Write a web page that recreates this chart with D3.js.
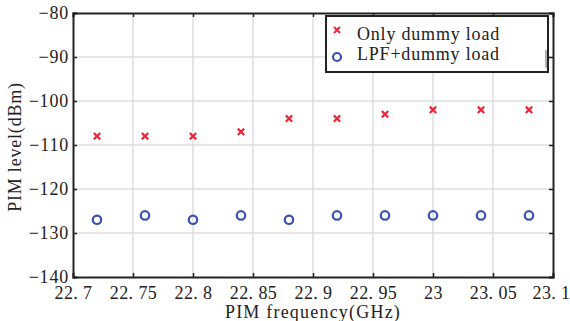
<!DOCTYPE html>
<html>
<head>
<meta charset="utf-8">
<script src="https://cdn.jsdelivr.net/npm/d3@7"></script>
<style>
  body { margin: 0; background: #fff; }
  text { font-family: "Liberation Serif", "DejaVu Serif", serif; fill: #222; }
</style>
</head>
<body>
<div id="chart"></div>
<script>
const freqs = [22.72, 22.76, 22.80, 22.84, 22.88, 22.92, 22.96, 23.00, 23.04, 23.08];
const onlyDummy = [-108, -108, -108, -107, -104, -104, -103, -102, -102, -102];
const lpfDummy = [-127, -126, -127, -126, -127, -126, -126, -126, -126, -126];
const xTicks = [22.7, 22.75, 22.8, 22.85, 22.9, 22.95, 23, 23.05, 23.1];
const xTickLabels = ['22. 7', '22. 75', '22. 8', '22. 85', '22. 9', '22. 95', '23', '23. 05', '23. 1'];
const yTicks = [-80, -90, -100, -110, -120, -130, -140];
const legendNames = ['Only dummy load', 'LPF+dummy load'];

const config = {
	width: 570,
	height: 321,
	margin: { top: 13, right: 17, bottom: 44, left: 73 },
	red: '#e8283a',
	blue: '#3a4fb0',
	grid: '#dedede',
	fontSize: '18px',
	spacing: '0.8px'
};

const svg = d3.select('#chart')
	.append('svg')
	.attr('width', config.width)
	.attr('height', config.height);

const m = config.margin;
const w = config.width - m.left - m.right;
const h = config.height - m.top - m.bottom;

const x = d3.scaleLinear().domain([22.7, 23.1]).range([m.left, m.left + w]);
const y = d3.scaleLinear().domain([-140, -80]).range([m.top + h, m.top]);

// grid
const grid = svg.append('g');
grid.selectAll('.vgrid')
	.data(xTicks.slice(1, -1))
	.enter().append('line')
		.attr('x1', d => x(d)).attr('x2', d => x(d))
		.attr('y1', m.top).attr('y2', m.top + h)
		.attr('stroke', config.grid).attr('stroke-width', 1.5);
grid.selectAll('.hgrid')
	.data(yTicks.slice(1, -1))
	.enter().append('line')
		.attr('x1', m.left).attr('x2', m.left + w)
		.attr('y1', d => y(d)).attr('y2', d => y(d))
		.attr('stroke', config.grid).attr('stroke-width', 1.5);

// axes
const fmtX = d => xTickLabels[xTicks.indexOf(d)];
const xAxis = svg.append('g')
	.attr('transform', `translate(0,${m.top + h})`)
	.call(d3.axisBottom(x).tickValues(xTicks).tickFormat(fmtX).tickSize(-4).tickPadding(9));
const yAxis = svg.append('g')
	.attr('transform', `translate(${m.left},0)`)
	.call(d3.axisLeft(y).tickValues(yTicks).tickFormat(d => '\u2212' + Math.abs(d)).tickSize(-4).tickPadding(4));
const topAxis = svg.append('g')
	.attr('transform', `translate(0,${m.top})`)
	.call(d3.axisTop(x).tickValues(xTicks).tickFormat('').tickSize(-4));
const rightAxis = svg.append('g')
	.attr('transform', `translate(${m.left + w},0)`)
	.call(d3.axisRight(y).tickValues(yTicks).tickFormat('').tickSize(-4));

[xAxis, yAxis, topAxis, rightAxis].forEach(a => {
	a.select('.domain').attr('stroke', '#222').attr('stroke-width', 2);
	a.selectAll('.tick line').attr('stroke', '#222').attr('stroke-width', 1.5);
	a.selectAll('text')
		.style('font-family', '"Liberation Serif", serif')
		.style('font-size', config.fontSize)
		.style('letter-spacing', config.spacing)
		.attr('fill', '#222');
});
// last x label sits on the page edge, keep it inside
xAxis.selectAll('text').style('letter-spacing', '0.4px');
xAxis.selectAll('.tick').filter(d => d === 23.1).select('text').attr('dx', -2);

// axis titles
svg.append('text')
	.attr('x', m.left + w / 2)
	.attr('y', 318)
	.attr('text-anchor', 'middle')
	.style('font-size', config.fontSize)
	.style('letter-spacing', '1.2px')
	.text('PIM frequency(GHz)');
svg.append('text')
	.attr('transform', `translate(21,${m.top + h / 2 + 2}) rotate(-90)`)
	.attr('text-anchor', 'middle')
	.style('font-size', config.fontSize)
	.style('letter-spacing', config.spacing)
	.text('PIM level(dBm)');

// markers
const crossPath = s => `M${-s},${-s}L${s},${s}M${-s},${s}L${s},${-s}`;

svg.append('g')
	.selectAll('path')
	.data(freqs.map((f, i) => [f, onlyDummy[i]]))
	.enter().append('path')
		.attr('transform', d => `translate(${x(d[0])},${y(d[1])})`)
		.attr('d', crossPath(3.2))
		.attr('stroke', config.red)
		.attr('stroke-width', 2.2);

svg.append('g')
	.selectAll('circle')
	.data(freqs.map((f, i) => [f, lpfDummy[i]]))
	.enter().append('circle')
		.attr('cx', d => x(d[0]))
		.attr('cy', d => y(d[1]))
		.attr('r', 4.2)
		.attr('fill', 'none')
		.attr('stroke', config.blue)
		.attr('stroke-width', 2.2);

// legend
const legend = svg.append('g').attr('transform', 'translate(326,16)');
legend.append('rect')
	.attr('width', 222).attr('height', 56)
	.attr('fill', '#fff')
	.attr('stroke', '#222').attr('stroke-width', 2);
legend.append('line')
	.attr('x1', 220).attr('x2', 220).attr('y1', 34).attr('y2', 52)
	.attr('stroke', '#999').attr('stroke-width', 1.5);

const rows = legend.selectAll('.row')
	.data(legendNames)
	.enter().append('g')
		.attr('transform', (d, i) => `translate(0,${14 + i * 27})`);
rows.filter((d, i) => i === 0).append('path')
	.attr('transform', 'translate(11,0)')
	.attr('d', crossPath(3))
	.attr('stroke', config.red).attr('stroke-width', 2);
rows.filter((d, i) => i === 1).append('circle')
	.attr('cx', 11).attr('cy', 0).attr('r', 4)
	.attr('fill', 'none')
	.attr('stroke', config.blue).attr('stroke-width', 2.2);
rows.append('text')
	.attr('x', 31)
	.attr('y', (d, i) => i === 0 ? 10 : 3)
	.style('font-size', config.fontSize)
	.style('letter-spacing', config.spacing)
	.text(d => d);
</script>
</body>
</html>
